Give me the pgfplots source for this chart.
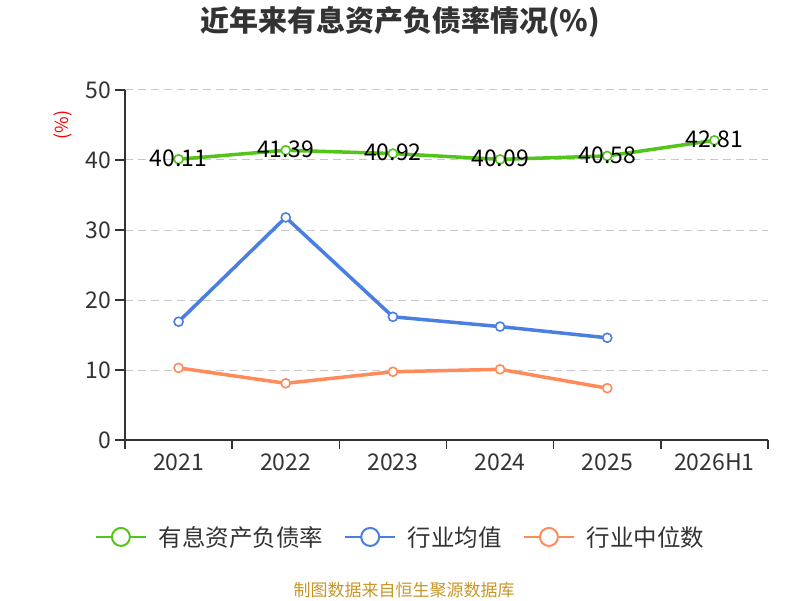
\documentclass[border=0pt]{standalone}
\usepackage{pgfplots}
\pgfplotsset{compat=1.18}
\usepackage{fontspec}
\setmainfont{Noto Sans CJK SC}
\definecolor{cgreen}{RGB}{82,196,26}
\definecolor{cblue}{RGB}{74,126,224}
\definecolor{corange}{RGB}{255,138,90}
\definecolor{c333}{RGB}{51,51,51}
\definecolor{cgrid}{RGB}{200,200,200}
\definecolor{cfoot}{RGB}{200,150,40}
\pgfplotstableread{
x y label
0 40.11 40.11
1 41.39 41.39
2 40.92 40.92
3 40.09 40.09
4 40.58 40.58
5 42.81 42.81
}\ratio
\pgfplotstableread{
x y
0 16.9
1 31.8
2 17.6
3 16.2
4 14.6
}\avg
\pgfplotstableread{
x y
0 10.3
1 8.1
2 9.75
3 10.1
4 7.4
}\med
\pgfplotsset{
  ser/.style={color=#1, line width=3.5pt, mark=*, mark size=4.5pt,
    mark options={solid, fill=white, draw=#1, line width=1.6pt}},
}
\begin{document}
\begin{tikzpicture}[x=1pt,y=1pt]
\useasboundingbox (0,0) rectangle (800,600);
\node[font=\fontsize{29}{34}\selectfont\bfseries, text=c333] at (400,578) {近年来有息资产负债率情况(\%)};
\node[rotate=90, text=red, font=\fontsize{18}{20}\selectfont] at (63,475) {(\%)};
\node[text=cfoot, font=\fontsize{17}{20}\selectfont] at (404,10) {制图数据来自恒生聚源数据库};
\begin{axis}[
  at={(125pt,160pt)}, anchor=south west, scale only axis,
  width=643pt, height=350pt,
  xmin=-0.5, xmax=5.5, ymin=0, ymax=50,
  axis x line*=bottom, axis y line*=left,
  axis line style={-, c333, line width=1.5pt},
  xtick={0,...,5},
  xticklabels={2021,2022,2023,2024,2025,2026H1},
  minor xtick={-0.5,0.5,...,5.5},
  ytick={0,10,...,50},
  tick align=outside,
  major tick length=10pt,
  minor tick length=9pt,
  major x tick style={draw=none},
  every tick/.style={c333, line width=1.5pt},
  minor tick style={c333, line width=1.5pt},
  ymajorgrids,
  grid style={cgrid, line width=1pt, dash pattern=on 8pt off 5pt},
  tick label style={font=\fontsize{23}{26}\selectfont, text=c333},
  /pgf/number format/assume math mode=true,
  legend columns=3,
  legend style={draw=none, at={(0.427,-0.277)}, anchor=center,
    font=\fontsize{23.5}{28}\selectfont, text=c333,
    nodes={inner sep=0pt},
    /tikz/every even column/.append style={column sep=21pt}},
  legend image code/.code={
    \draw[#1, line width=2pt] (0pt,0pt) -- (50pt,0pt);
    \draw[#1, line width=2pt, fill=white] (25pt,0pt) circle (9pt);
    \path (61pt,0pt);
  },
  clip=false,
]
\addplot[ser=cgreen,
  nodes near coords, point meta=explicit symbolic,
  every node near coord/.style={anchor=center, yshift=1pt, text=black, font=\fontsize{23}{26}\selectfont}]
  table[x=x, y=y, meta=label] {\ratio};
\addlegendentry{有息资产负债率}
\addplot[ser=cblue] table[x=x, y=y] {\avg};
\addlegendentry{行业均值}
\addplot[ser=corange] table[x=x, y=y] {\med};
\addlegendentry{行业中位数}
\end{axis}
\end{tikzpicture}
\end{document}
